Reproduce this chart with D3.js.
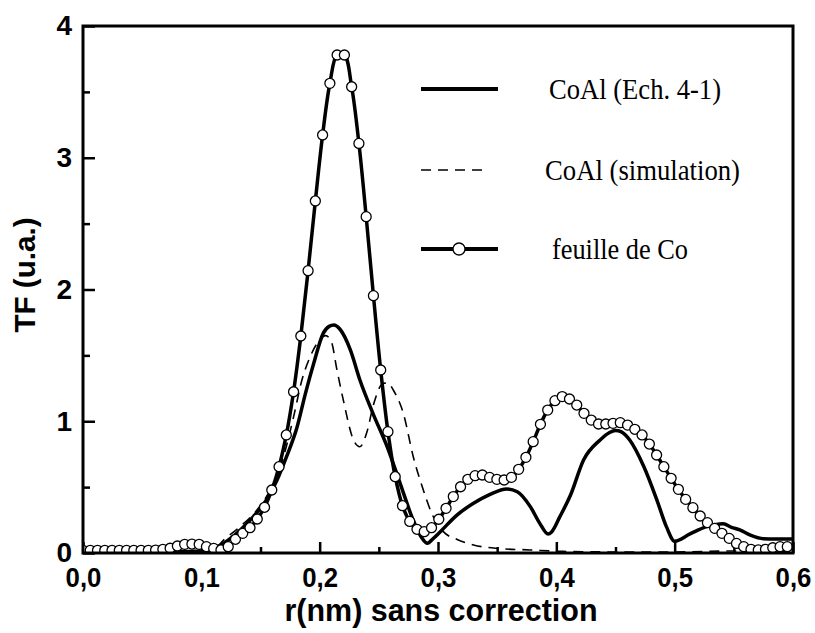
<!DOCTYPE html>
<html>
<head>
<meta charset="utf-8">
<script src="https://cdn.jsdelivr.net/npm/d3@7"></script>
<style>
  body { margin: 0; background: #fff; }
  svg { display: block; }
</style>
</head>
<body>
<svg id="chart" width="815" height="633"></svg>
<script>
/* TF of CoAl sample vs simulation vs Co foil */

// Co foil: one point every pi/512 nm, starting at r = 0
const coStep = Math.PI / 512;
const coFoil = [
  0.020, 0.020, 0.020, 0.020, 0.020, 0.020, 0.020, 0.020, 0.020, 0.020,
  0.022, 0.028, 0.036, 0.053, 0.066, 0.068, 0.066, 0.048, 0.035, 0.023,
  0.048, 0.104, 0.149, 0.192, 0.258, 0.347, 0.478, 0.655, 0.896, 1.224,
  1.647, 2.143, 2.672, 3.173, 3.565, 3.780, 3.780, 3.539, 3.109, 2.553,
  1.953, 1.389, 0.921, 0.579, 0.359, 0.240, 0.180, 0.162, 0.192, 0.256,
  0.339, 0.428, 0.503, 0.559, 0.587, 0.592, 0.574, 0.559, 0.554, 0.574,
  0.635, 0.726, 0.845, 0.977, 1.085, 1.156, 1.187, 1.169, 1.123, 1.060,
  1.009, 0.979, 0.979, 0.984, 0.989, 0.971, 0.939, 0.896, 0.827, 0.744,
  0.655, 0.567, 0.483, 0.407, 0.344, 0.281, 0.230, 0.187, 0.149, 0.111,
  0.073, 0.048, 0.028, 0.023, 0.028, 0.040, 0.048, 0.048
];

// CoAl (Ech. 4-1), experimental
const echR = [0.000, 0.030, 0.060, 0.070, 0.090, 0.100, 0.107, 0.113, 0.119, 0.126,
  0.133, 0.144, 0.155, 0.164, 0.172, 0.181, 0.188, 0.195, 0.203, 0.208,
  0.212, 0.217, 0.226, 0.234, 0.245, 0.257, 0.268, 0.279, 0.286, 0.291,
  0.296, 0.302, 0.316, 0.330, 0.344, 0.358, 0.367, 0.378, 0.386, 0.393,
  0.396, 0.403, 0.412, 0.423, 0.437, 0.445, 0.450, 0.455, 0.462, 0.474,
  0.485, 0.493, 0.500, 0.513, 0.527, 0.534, 0.541, 0.548, 0.555, 0.564,
  0.575, 0.585, 0.600];
const echV = [0.000, 0.000, 0.003, 0.008, 0.012, 0.014, 0.023, 0.045, 0.074, 0.120,
  0.175, 0.276, 0.402, 0.554, 0.731, 0.959, 1.212, 1.440, 1.667, 1.720,
  1.730, 1.700, 1.540, 1.313, 1.060, 0.807, 0.529, 0.250, 0.120, 0.074,
  0.110, 0.162, 0.288, 0.377, 0.445, 0.486, 0.465, 0.352, 0.225, 0.144,
  0.160, 0.276, 0.440, 0.706, 0.858, 0.915, 0.930, 0.920, 0.858, 0.655,
  0.402, 0.200, 0.090, 0.145, 0.200, 0.215, 0.222, 0.195, 0.175, 0.135,
  0.108, 0.106, 0.106];

// CoAl (simulation)
const simR = [0.000, 0.050, 0.090, 0.105, 0.110, 0.119, 0.131, 0.147, 0.155, 0.164,
  0.171, 0.178, 0.185, 0.192, 0.200, 0.205, 0.210, 0.2144, 0.220, 0.2285,
  0.234, 0.240, 0.2453, 0.2538, 0.258, 0.2622, 0.2707, 0.2791, 0.2876, 0.2947,
  0.3045, 0.3158, 0.330, 0.350, 0.378, 0.406, 0.450, 0.500, 0.550, 0.600];
const simV = [0.000, 0.000, 0.005, 0.010, 0.020, 0.100, 0.187, 0.326, 0.427, 0.579,
  0.780, 1.035, 1.313, 1.490, 1.617, 1.650, 1.600, 1.400, 1.160, 0.860,
  0.807, 0.920, 1.120, 1.288, 1.290, 1.237, 1.060, 0.731, 0.478, 0.301,
  0.162, 0.104, 0.061, 0.035, 0.023, 0.012, 0.008, 0.008, 0.015, 0.010];

const xTicks = [0, 0.1, 0.2, 0.3, 0.4, 0.5, 0.6];
const xTickLabels = ['0,0', '0,1', '0,2', '0,3', '0,4', '0,5', '0,6'];
const xMinorTicks = [0.05, 0.15, 0.25, 0.35, 0.45, 0.55];
const yTicks = [0, 1, 2, 3, 4];
const yMinorTicks = [0.5, 1.5, 2.5, 3.5];
const legendLabels = ['CoAl (Ech. 4-1)', 'CoAl (simulation)', 'feuille de Co'];

const svg = d3.select('#chart');
const plotL = 83, plotR = 793, plotT = 26, plotB = 553;

const x = d3.scaleLinear().domain([0, 0.6]).range([plotL, plotR]);
const y = d3.scaleLinear().domain([0, 4]).range([plotB, plotT]);

svg.append('defs').append('clipPath').attr('id', 'plot-clip')
  .append('rect').attr('x', plotL).attr('y', plotT)
  .attr('width', plotR - plotL).attr('height', plotB - plotT);

// squeeze text horizontally to a fraction of its natural width
function squeeze(sel, k) {
  sel.each(function () {
    const w = this.getComputedTextLength();
    d3.select(this).attr('textLength', w * k).attr('lengthAdjust', 'spacingAndGlyphs');
  });
}

// axes, ticks pointing into the plot
const xAxis = svg.append('g').attr('transform', `translate(0,${plotB})`)
  .call(d3.axisBottom(x).tickValues(xTicks).tickSize(-11).tickPadding(14)
    .tickFormat((d, i) => xTickLabels[i]));
svg.append('g').attr('transform', `translate(0,${plotB})`)
  .call(d3.axisBottom(x).tickValues(xMinorTicks).tickSize(-6).tickFormat(''));

const yAxis = svg.append('g').attr('transform', `translate(${plotL},0)`)
  .call(d3.axisLeft(y).tickValues(yTicks).tickSize(-12).tickPadding(11).tickFormat(d3.format('d')));
svg.append('g').attr('transform', `translate(${plotL},0)`)
  .call(d3.axisLeft(y).tickValues(yMinorTicks).tickSize(-7).tickFormat(''));

svg.selectAll('.domain').remove();
svg.selectAll('.tick line').attr('stroke', '#000').attr('stroke-width', 2.5);
svg.selectAll('.tick text')
  .attr('fill', '#000')
  .style('font-family', '"Liberation Sans", Arial, sans-serif')
  .style('font-weight', 'bold')
  .style('font-size', '28px');
squeeze(xAxis.selectAll('.tick text'), 0.92);

// curves
const plot = svg.append('g').attr('clip-path', 'url(#plot-clip)');

const simLine = d3.line().x((d, i) => x(simR[i])).y(d => y(d)).curve(d3.curveMonotoneX);
plot.append('path').attr('d', simLine(simV))
  .attr('fill', 'none').attr('stroke', '#000')
  .attr('stroke-width', 1.6).attr('stroke-dasharray', '10,7');

const echLine = d3.line().x((d, i) => x(echR[i])).y(d => y(d)).curve(d3.curveMonotoneX);
plot.append('path').attr('d', echLine(echV))
  .attr('fill', 'none').attr('stroke', '#000').attr('stroke-width', 3.5);

const coLine = d3.line().x((d, i) => x(i * coStep)).y(d => y(d)).curve(d3.curveCatmullRom);
plot.append('path').attr('d', coLine(coFoil))
  .attr('fill', 'none').attr('stroke', '#000').attr('stroke-width', 3.5);

plot.append('g').selectAll('circle').data(coFoil).join('circle')
  .attr('cx', (d, i) => x(i * coStep))
  .attr('cy', d => y(d))
  .attr('r', 5)
  .attr('fill', '#fff').attr('stroke', '#000').attr('stroke-width', 1.3);

// frame
svg.append('rect').attr('x', plotL).attr('y', plotT)
  .attr('width', plotR - plotL).attr('height', plotB - plotT)
  .attr('fill', 'none').attr('stroke', '#000').attr('stroke-width', 3);

// axis titles
svg.append('text')
  .attr('x', 441).attr('y', 621)
  .attr('text-anchor', 'middle')
  .style('font-family', '"Liberation Sans", Arial, sans-serif')
  .style('font-weight', 'bold').style('font-size', '31px')
  .attr('textLength', 313).attr('lengthAdjust', 'spacingAndGlyphs')
  .text('r(nm) sans correction');

svg.append('text')
  .attr('transform', 'translate(35,275) rotate(-90)')
  .attr('text-anchor', 'middle')
  .style('font-family', '"Liberation Sans", Arial, sans-serif')
  .style('font-weight', 'bold').style('font-size', '30px')
  .attr('textLength', 115).attr('lengthAdjust', 'spacingAndGlyphs')
  .text('TF (u.a.)');

// legend
const legendY = [89, 170, 249];
const legendTextX = [549, 545, 552];
const legendTextW = [172, 195, 136];
const lg = svg.append('g');
legendLabels.forEach((label, i) => {
  const row = lg.append('g');
  if (i === 1) {
    row.append('line').attr('x1', 421).attr('x2', 488).attr('y1', legendY[i]).attr('y2', legendY[i])
      .attr('stroke', '#000').attr('stroke-width', 1.6).attr('stroke-dasharray', '10,7');
  } else {
    row.append('line').attr('x1', 421).attr('x2', 498).attr('y1', legendY[i]).attr('y2', legendY[i])
      .attr('stroke', '#000').attr('stroke-width', 4);
  }
  if (i === 2) {
    row.append('circle').attr('cx', 459).attr('cy', legendY[i]).attr('r', 6)
      .attr('fill', '#fff').attr('stroke', '#000').attr('stroke-width', 1.3);
  }
  row.append('text')
    .attr('x', legendTextX[i]).attr('y', legendY[i] + 10)
    .style('font-family', '"Liberation Serif", "Times New Roman", serif')
    .style('font-size', '30px')
    .attr('textLength', legendTextW[i]).attr('lengthAdjust', 'spacingAndGlyphs')
    .text(label);
});
</script>
</body>
</html>
